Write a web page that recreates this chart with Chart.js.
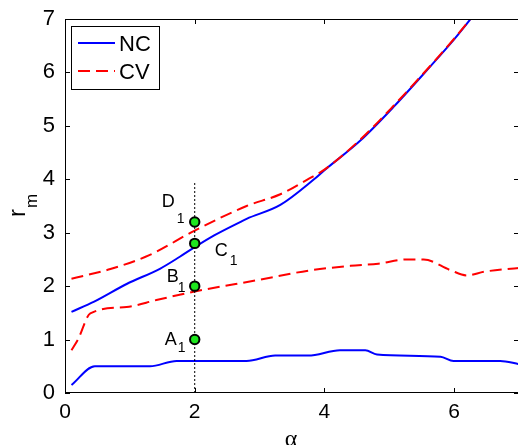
<!DOCTYPE html>
<html>
<head>
<meta charset="utf-8">
<script src="https://cdn.jsdelivr.net/npm/chart.js@4.4.0/dist/chart.umd.min.js"></script>
<style>
  html, body { margin: 0; padding: 0; overflow: hidden; background: #fff; }
  #wrap { width: 520px; height: 445px; }
</style>
</head>
<body>
<div id="wrap"><canvas id="chart" width="520" height="445"></canvas></div>
<script>
// 上側の曲線 (NC / CV)
const ncUpperX = [0.1, 0.45, 0.95, 1.47, 1.77, 2.0, 2.3, 2.7, 2.8, 3.32, 3.83, 4.0, 4.55, 5.07, 5.63, 6.0, 6.3];
const ncUpperY = [1.52, 1.71, 2.04, 2.33, 2.55, 2.73, 2.95, 3.2, 3.26, 3.52, 3.99, 4.17, 4.72, 5.36, 6.11, 6.62, 7.07];
const cvUpperX = [0.1, 0.7, 1.3, 2.0, 2.8, 3.32, 3.73, 4.0, 4.55, 5.07, 5.63, 6.0, 6.3];
const cvUpperY = [2.14, 2.32, 2.58, 3.04, 3.5, 3.72, 3.99, 4.18, 4.74, 5.38, 6.12, 6.63, 7.07];

// 下側の曲線
const ncLowerX = [0.1, 0.46, 1.31, 1.72, 2.8, 3.24, 3.75, 4.24, 4.63, 4.81, 5.79, 5.99, 6.71, 7.0];
const ncLowerY = [0.15, 0.5, 0.5, 0.6, 0.6, 0.7, 0.7, 0.8, 0.8, 0.72, 0.68, 0.6, 0.6, 0.54];
const cvLowerX = [0.1, 0.2, 0.39, 0.95, 1.41, 2.0, 3.0, 3.75, 4.4, 4.83, 5.27, 5.53, 5.94, 6.2, 6.46, 7.0];
const cvLowerY = [0.8, 1.0, 1.49, 1.61, 1.74, 1.9, 2.12, 2.29, 2.38, 2.42, 2.5, 2.5, 2.3, 2.2, 2.27, 2.34];

// α = 2 の点と縦の点線
const markerNames = ['A', 'B', 'C', 'D'];
const markerX = [2, 2, 2, 2];
const markerY = [1, 2, 2.8, 3.2];
const guideX = [2, 2];
const guideY = [0, 3.95];

const xTicks = [0, 2, 4, 6];
const yTicks = [0, 1, 2, 3, 4, 5, 6, 7];

const FONT = '"Liberation Sans", Arial, Helvetica, sans-serif';

function pts(xs, ys) {
    return xs.map((x, i) => ({ x: x, y: ys[i] }));
}

// ラベルの位置 (点の中心からのずれ: 文字 / 添字)
const labelOffsets = {
    A: { dx: -30, dy: 0, sx: -17, sy: 9 },
    B: { dx: -28, dy: -9, sx: -17, sy: 2 },
    C: { dx: 20, dy: 8, sx: 35, sy: 18 },
    D: { dx: -33, dy: -20, sx: -18, sy: -3 }
};

// 枠・目盛・凡例・ラベル
const decorations = {
    id: 'decorations',
    afterDatasetsDraw(chart) {
        const ctx = chart.ctx;
        const a = chart.chartArea;
        const xs = chart.scales.x;
        const ys = chart.scales.y;

        ctx.save();
        ctx.strokeStyle = '#000';
        ctx.lineWidth = 1;
        ctx.setLineDash([]);
        ctx.strokeRect(a.left + 0.5, a.top + 0.5, a.right - a.left - 1, a.bottom - a.top - 1);

        ctx.beginPath();
        xTicks.forEach(v => {
            const px = Math.round(xs.getPixelForValue(v)) + 0.5;
            ctx.moveTo(px, a.bottom);
            ctx.lineTo(px, a.bottom - 5);
            ctx.moveTo(px, a.top);
            ctx.lineTo(px, a.top + 5);
        });
        yTicks.forEach(v => {
            const py = Math.round(ys.getPixelForValue(v)) + 0.5;
            ctx.moveTo(a.left, py);
            ctx.lineTo(a.left + 5, py);
            ctx.moveTo(a.right, py);
            ctx.lineTo(a.right - 5, py);
        });
        ctx.stroke();

        // 点のラベル
        ctx.fillStyle = '#000';
        ctx.textBaseline = 'middle';
        ctx.textAlign = 'left';
        markerNames.forEach((name, i) => {
            const px = xs.getPixelForValue(markerX[i]);
            const py = ys.getPixelForValue(markerY[i]);
            const o = labelOffsets[name];
            ctx.font = '18px ' + FONT;
            ctx.fillText(name, px + o.dx, py + o.dy);
            ctx.font = '14px ' + FONT;
            ctx.fillText('1', px + o.sx, py + o.sy);
        });

        // 凡例
        const lx = a.left + 6, ly = a.top + 7, lw = 88, lh = 63;
        ctx.fillStyle = '#fff';
        ctx.fillRect(lx, ly, lw, lh);
        ctx.strokeStyle = '#000';
        ctx.lineWidth = 1;
        ctx.strokeRect(lx + 0.5, ly + 0.5, lw, lh);
        const legendSets = chart.data.datasets.filter(d => d.inLegend);
        legendSets.forEach((d, i) => {
            const y = ly + 17 + i * 28;
            ctx.strokeStyle = d.borderColor;
            ctx.lineWidth = d.borderWidth;
            ctx.setLineDash(d.borderDash || []);
            ctx.beginPath();
            ctx.moveTo(lx + 7, y);
            ctx.lineTo(lx + 44, y);
            ctx.stroke();
            ctx.setLineDash([]);
            ctx.fillStyle = '#000';
            ctx.font = '22px ' + FONT;
            ctx.textBaseline = 'middle';
            ctx.fillText(d.label, lx + 48, y + 1.5);
        });

        // 軸タイトル
        ctx.fillStyle = '#000';
        ctx.font = '24px "Liberation Serif", "Times New Roman", serif';
        ctx.textAlign = 'center';
        ctx.textBaseline = 'alphabetic';
        ctx.fillText('α', 291, 446);

        ctx.translate(25, 217);
        ctx.rotate(-Math.PI / 2);
        ctx.textAlign = 'left';
        ctx.font = '24px ' + FONT;
        ctx.fillText('r', 0, 0);
        const rw = ctx.measureText('r').width;
        ctx.font = '17px ' + FONT;
        ctx.fillText('m', rw + 1, 12);
        ctx.restore();
    }
};

const ctx = document.getElementById('chart').getContext('2d');
new Chart(ctx, {
    type: 'line',
    data: {
        datasets: [
            {
                label: 'markers',
                data: pts(markerX, markerY),
                showLine: false,
                pointRadius: 4.7,
                pointBorderWidth: 2,
                pointBackgroundColor: '#1ee61e',
                pointBorderColor: '#000',
                order: 0
            },
            {
                label: 'NC',
                inLegend: true,
                data: pts(ncUpperX, ncUpperY),
                borderColor: '#0000ff',
                borderWidth: 2,
                pointRadius: 0,
                cubicInterpolationMode: 'monotone',
                order: 3
            },
            {
                label: 'CV',
                inLegend: true,
                data: pts(cvUpperX, cvUpperY),
                borderColor: '#ff0000',
                borderWidth: 2,
                borderDash: [12, 6],
                pointRadius: 0,
                cubicInterpolationMode: 'monotone',
                order: 2
            },
            {
                label: 'NC lower',
                data: pts(ncLowerX, ncLowerY),
                borderColor: '#0000ff',
                borderWidth: 2,
                pointRadius: 0,
                cubicInterpolationMode: 'monotone',
                order: 3
            },
            {
                label: 'CV lower',
                data: pts(cvLowerX, cvLowerY),
                borderColor: '#ff0000',
                borderWidth: 2,
                borderDash: [12, 6],
                pointRadius: 0,
                cubicInterpolationMode: 'monotone',
                order: 2
            },
            {
                label: 'guide',
                data: pts(guideX, guideY),
                borderColor: '#000',
                borderWidth: 1,
                borderDash: [2, 2],
                pointRadius: 0,
                order: 1
            }
        ]
    },
    options: {
        responsive: false,
        animation: false,
        layout: { autoPadding: false, padding: { top: 19, right: 1, left: 0, bottom: 0 } },
        plugins: {
            legend: { display: false },
            tooltip: { enabled: false }
        },
        scales: {
            x: {
                type: 'linear',
                min: 0,
                max: 7,
                grid: { display: false, drawTicks: false },
                border: { display: false },
                ticks: {
                    stepSize: 2,
                    includeBounds: false,
                    padding: 7,
                    color: '#000',
                    font: { family: FONT, size: 21 }
                },
                afterFit(scale) {
                    scale.height = 52;
                    scale.paddingLeft = 0;
                    scale.paddingRight = 0;
                }
            },
            y: {
                type: 'linear',
                min: 0,
                max: 7,
                grid: { display: false, drawTicks: false },
                border: { display: false },
                ticks: {
                    stepSize: 1,
                    padding: 10,
                    color: '#000',
                    font: { family: FONT, size: 22 }
                },
                afterFit(scale) {
                    scale.width = 65;
                    scale.paddingTop = 0;
                    scale.paddingBottom = 0;
                }
            }
        }
    },
    plugins: [decorations]
});
</script>
</body>
</html>
